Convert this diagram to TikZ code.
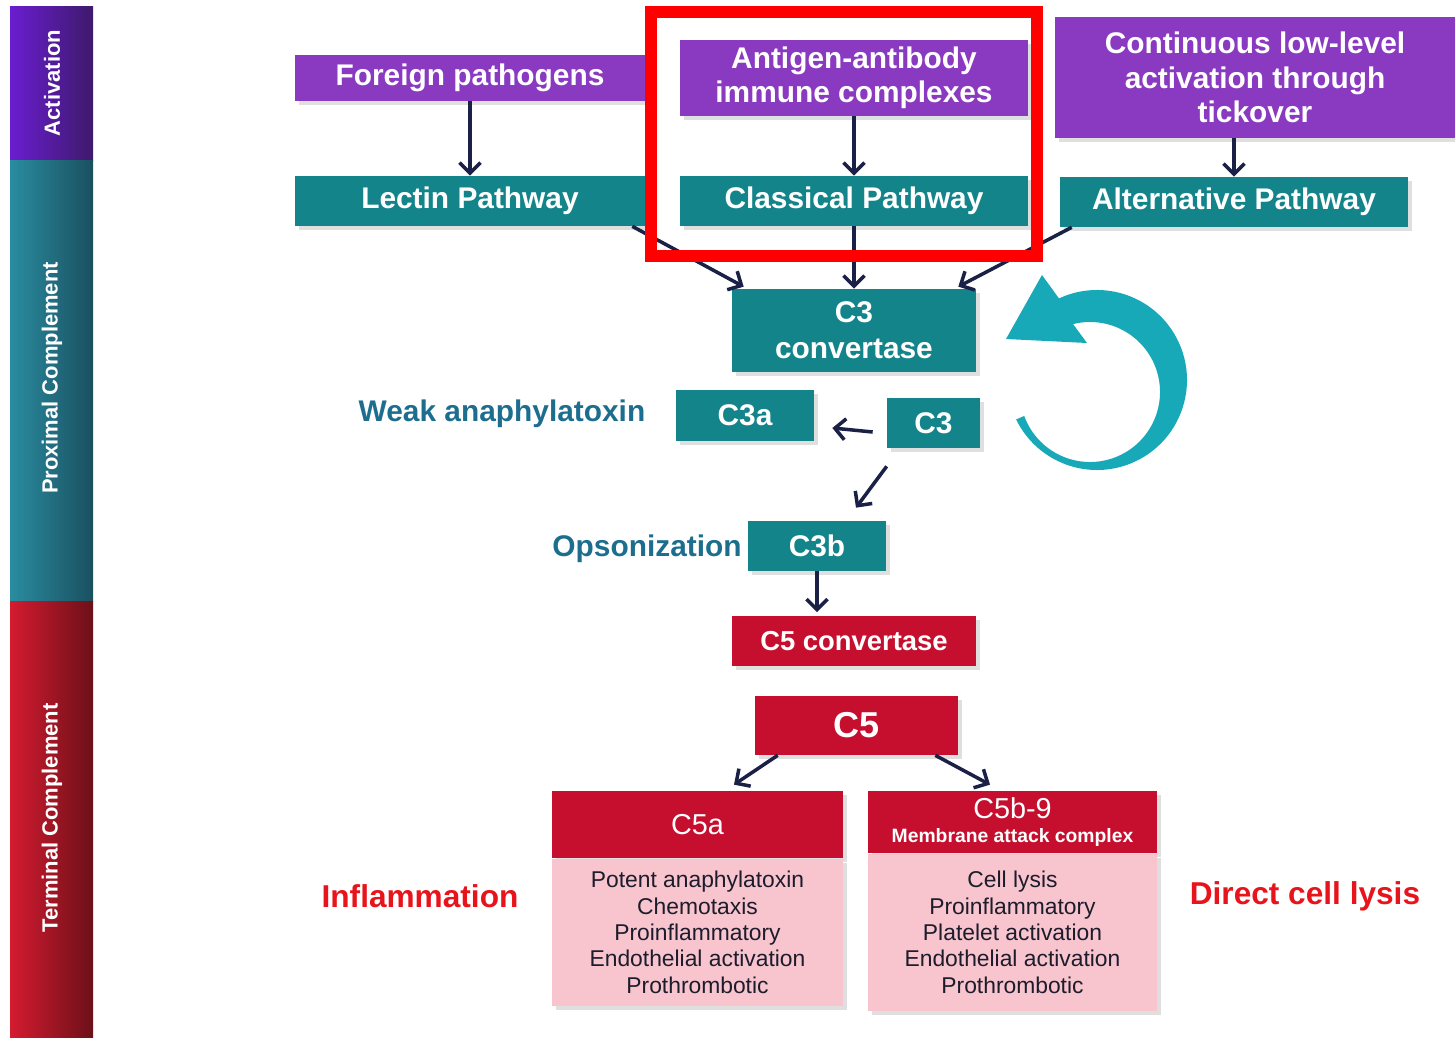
\documentclass[tikz,border=0pt]{standalone}
\usepackage{fontspec}
\setmainfont{Liberation Sans}
\usetikzlibrary{positioning,arrows.meta,shadows}

\definecolor{actpurple}{HTML}{8A3AC0}
\definecolor{pathteal}{HTML}{13848A}
\definecolor{termred}{HTML}{C60F2E}
\definecolor{bodypink}{HTML}{F8C4CD}
\definecolor{bodyink}{HTML}{1C1C2C}
\definecolor{arrownavy}{HTML}{1B2046}
\definecolor{cycleteal}{HTML}{18A9B8}
\definecolor{labelblue}{HTML}{1D6E8E}
\definecolor{hotred}{HTML}{E8141C}
\definecolor{barpurpleA}{HTML}{6A1DD0}
\definecolor{barpurpleB}{HTML}{3E1A6C}
\definecolor{bartealA}{HTML}{2A8CA0}
\definecolor{bartealB}{HTML}{1A5060}
\definecolor{barredA}{HTML}{D41B30}
\definecolor{barredB}{HTML}{6C1018}

\newcommand\regB{\bfseries\fontsize{17}{19.5}\selectfont}
\newcommand\headR{\fontsize{16.4}{18}\selectfont}
\newcommand\bodyR{\fontsize{13}{15}\selectfont}

\begin{document}
\begin{tikzpicture}[
x=0.02cm, y=-0.02cm,
box/.style={
  draw=none,
  inner sep=0pt,
  align=center,
  text=white,
  drop shadow={shadow xshift=0.08cm, shadow yshift=-0.08cm, opacity=0.25}
  },
trigger/.style={box, fill=actpurple, font=\regB},
pathway/.style={box, fill=pathteal, font=\regB},
terminal/.style={box, fill=termred},
effects/.style={box, fill=bodypink, text=bodyink, font=\bodyR},
link/.style={->, draw=arrownavy, line width=2pt},
sidebar/.style={rotate=90, text=white, font=\bfseries\fontsize{12.5}{14}\selectfont},
outcome/.style={text=hotred, font=\bfseries\fontsize{18}{20}\selectfont},
>={Straight Barb[length=6pt,width=12pt]}
]
\useasboundingbox (0,0) rectangle (1455,1038);

% side bar
\shade[left color=barpurpleA, right color=barpurpleB] (10,6) rectangle (93,160);
\shade[left color=bartealA, right color=bartealB] (10,160) rectangle (93,601);
\shade[left color=barredA, right color=barredB] (10,601) rectangle (93,1038);
\node[sidebar] (act) at (52,83) {Activation};
\node[sidebar] (prox) at (52,378) {Proximal Complement};
\node[sidebar] (term) at (52,818) {Terminal Complement};

% triggers and pathways
\node[trigger, minimum width=7cm, minimum height=0.92cm] (fp) at (470,78) {Foreign pathogens};
\node[trigger, minimum width=6.96cm, minimum height=1.52cm] (aa) at (854,78) {Antigen-antibody\\immune complexes};
\node[trigger, minimum width=8cm, minimum height=2.42cm] (cont) at (1255,77.5) {Continuous low-level\\activation through\\tickover};
\node[pathway, minimum width=7cm, minimum height=1cm] (lp) at (470,201) {Lectin Pathway};
\node[pathway, minimum width=6.96cm, minimum height=1cm] (cp) at (854,201) {Classical Pathway};
\node[pathway, minimum width=6.96cm, minimum height=1cm] (ap) at (1234,202) {Alternative Pathway};

% proximal cascade
\node[pathway, minimum width=4.88cm, minimum height=1.66cm, font=\bfseries\fontsize{17}{20.5}\selectfont] (c3conv) at (854,330.5) {C3\\convertase};
\node[pathway, minimum width=2.76cm, minimum height=1.02cm] (c3a) at (745,415.5) {C3a};
\node[pathway, minimum width=1.86cm, minimum height=1cm] (c3) at (933.5,423) {C3};
\node[pathway, minimum width=2.76cm, minimum height=1cm] (c3b) at (817,546) {C3b};
\node[text=labelblue, font=\regB] (weak) at (502,414) {Weak anaphylatoxin};
\node[text=labelblue, font=\regB] (opso) at (647,549) {Opsonization};

% terminal cascade
\node[terminal, minimum width=4.88cm, minimum height=1cm, font=\bfseries\fontsize{15.6}{18}\selectfont] (c5conv) at (854,641) {C5 convertase};
\node[terminal, minimum width=4.06cm, minimum height=1.18cm, font=\bfseries\fontsize{20.5}{24}\selectfont] (c5) at (856.5,725.5) {C5};
\node[terminal, minimum width=5.82cm, minimum height=1.34cm, font=\headR] (c5a) at (697.5,824.5) {C5a};
\node[effects, below=0pt of c5a, minimum width=5.82cm, minimum height=2.94cm] (c5afx) {Potent anaphylatoxin\\Chemotaxis\\Proinflammatory\\Endothelial activation\\Prothrombotic};
\node[terminal, minimum width=5.78cm, minimum height=1.24cm, font=\headR] (c5b) at (1012.5,822) {C5b-9\\[-4pt]{\bfseries\fontsize{11}{13}\selectfont Membrane attack complex}};
\node[effects, below=0pt of c5b, minimum width=5.78cm, minimum height=3.14cm] (c5bfx) {Cell lysis\\Proinflammatory\\Platelet activation\\Endothelial activation\\Prothrombotic};
\node[outcome] (infl) at (420,896) {Inflammation};
\node[outcome] (lysis) at (1305,896) {Direct cell lysis};

% amplification loop
\fill[cycleteal] (1042,275) -- ([shift={(1097,380)}]245:90)
  arc[start angle=245, end angle=514, radius=90]
  -- ([shift={(1090,392)}]520:70)
  arc[start angle=520, end angle=256, radius=70]
  -- (1087,343) -- (1006,339) -- cycle;

% arrows
\draw[link] (fp) -- (lp);
\draw[link] (aa) -- (cp);
\draw[link] (cont.south -| ap) -- (ap);
\draw[link] ([xshift=-0.26cm]lp.south east) -- ([xshift=0.24cm,yshift=0.04cm]c3conv.north west);
\draw[link] (cp) -- (c3conv);
\draw[link] ([xshift=0.24cm]ap.south west) -- ([xshift=-0.36cm,yshift=0.04cm]c3conv.north east);
\draw[link] ([xshift=-0.28cm,yshift=-0.18cm]c3.west) -- ([xshift=0.36cm,yshift=-0.25cm]c3a.east);
\draw[link] ([yshift=-0.36cm]c3.south west) -- ([xshift=0.78cm,yshift=0.26cm]c3b.north);
\draw[link, shorten >=2pt] (c3b) -- (c3b |- c5conv.north);
\draw[link] ([xshift=0.46cm]c5.south west) -- ([xshift=0.73cm,yshift=0.12cm]c5a.north);
\draw[link] ([xshift=-0.46cm]c5.south east) -- ([xshift=-0.45cm,yshift=0.12cm]c5b.north);

% highlight
\draw[red, line width=0.24cm] (651,12) rectangle (1037,256);

\end{tikzpicture}
\end{document}
